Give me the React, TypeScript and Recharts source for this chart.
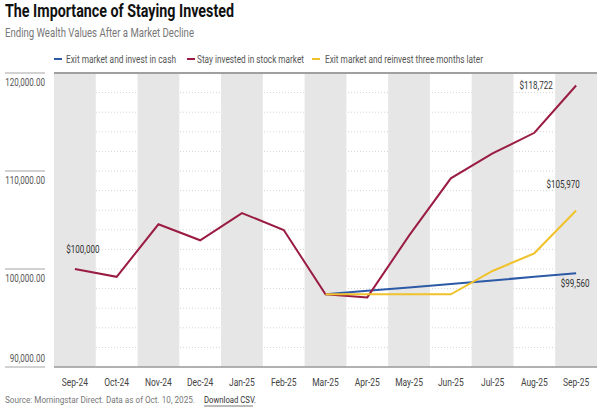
import {
  ComposedChart, Line, XAxis, YAxis, CartesianGrid, ReferenceArea, ReferenceLine, LabelList,
} from 'recharts';

const months = [
  'Sep-24', 'Oct-24', 'Nov-24', 'Dec-24', 'Jan-25', 'Feb-25', 'Mar-25',
  'Apr-25', 'May-25', 'Jun-25', 'Jul-25', 'Aug-25', 'Sep-25',
];
const stockValues = [100000, 99200, 104560, 102930, 105710, 103980, 97420, 97100, 103400, 109250, 111800, 113900, 118722];
const cashValues = [null, null, null, null, null, null, 97420, 97770, 98120, 98470, 98830, 99200, 99560];
const reinvestValues = [null, null, null, null, null, null, 97420, 97420, 97420, 97420, 99800, 101600, 105970];
const yTicks = [90000, 92000, 94000, 96000, 98000, 100000, 102000, 104000, 106000, 108000, 110000, 112000, 114000, 116000, 118000, 120000];
const yLabels = [90000, 100000, 110000, 120000];

const seriesNames = ['Exit market and invest in cash', 'Stay invested in stock market', 'Exit market and reinvest three months later'];

const BLUE = '#2d5aa6';
const RED = '#9a1c43';
const YELLOW = '#f0c22c';
const FONT = "Roboto, 'Liberation Sans', sans-serif";

const data = months.map((m, i) => ({
  month: m,
  cash: cashValues[i],
  stock: stockValues[i],
  reinvest: reinvestValues[i],
}));

const fmtMoney = (v: number) => `$${v.toLocaleString('en-US')}`;

// narrow text: the reference uses a condensed face, so squeeze horizontally
function NarrowText({ x, y, anchor = 'start', size = 10.5, sx = 0.78, fill = '#444', w, weight, children }: any) {
  return (
    <g transform={`translate(${x},${y}) scale(${sx},1)`}>
      <text
        x={0}
        y={0}
        textAnchor={anchor}
        fontSize={size}
        fontWeight={weight}
        fill={fill}
        fontFamily={FONT}
        textLength={w ? w / sx : undefined}
        lengthAdjust={w ? 'spacingAndGlyphs' : undefined}
      >
        {children}
      </text>
    </g>
  );
}

function YTick({ y, payload }: any) {
  const v = payload.value;
  if (!yLabels.includes(v)) return <g />;
  const bottom = v === 90000;
  return (
    <g>
      <line x1={5} x2={45} y1={y} y2={y} stroke="#a6a6a6" strokeWidth={1.2} />
      <NarrowText x={45} y={bottom ? y - 5 : y + 13} anchor="end" size={11} sx={0.73} fill="#555">
        {v.toLocaleString('en-US', { minimumFractionDigits: 2 })}
      </NarrowText>
    </g>
  );
}

function XTick({ x, y, payload }: any) {
  return (
    <NarrowText x={x} y={y + 11} anchor="middle" size={11} sx={0.77} fill="#444">
      {payload.value}
    </NarrowText>
  );
}

const endLabel = (idx: number, dx: number, dy: number) => (props: any) => {
  const { x, y, value, index } = props;
  if (index !== idx || value == null) return null;
  return (
    <NarrowText x={x + dx} y={y + dy + 4} anchor="middle" size={11} sx={0.73} fill="#333">
      {fmtMoney(value)}
    </NarrowText>
  );
};

const legendItems = [
  { color: BLUE, mx: 54, tx: 66, len: 110 },
  { color: RED, mx: 187, tx: 197, len: 107 },
  { color: YELLOW, mx: 312, tx: 325, len: 158 },
];

export default function App() {
  return (
    <div style={{ position: 'relative', width: 602, height: 409, background: '#fff' }}>
      <style>{'body{margin:0}'}</style>
      <svg width={602} height={409} style={{ position: 'absolute', left: 0, top: 0 }}>
        <NarrowText x={5} y={17} size={18} weight="bold" sx={0.8} fill="#111" w={229}>
          The Importance of Staying Invested
        </NarrowText>
        <NarrowText x={5} y={37} size={12.5} sx={0.8} fill="#777" w={189}>
          Ending Wealth Values After a Market Decline
        </NarrowText>
        {legendItems.map((it, i) => (
          <g key={i}>
            <line x1={it.mx} x2={it.mx + 8} y1={59} y2={59} stroke={it.color} strokeWidth={2} />
            <NarrowText x={it.tx} y={63} size={11.5} sx={0.75} fill="#555" w={it.len}>
              {seriesNames[i]}
            </NarrowText>
          </g>
        ))}
        <NarrowText x={5} y={403} size={8.8} sx={1} fill="#777" w={190}>
          Source: Morningstar Direct. Data as of Oct. 10, 2025.
        </NarrowText>
        <NarrowText x={204} y={403} size={8.8} sx={1} fill="#333" w={52}>
          Download CSV.
        </NarrowText>
        <line x1={204} x2={253} y1={406} y2={406} stroke="#555" strokeWidth={0.8} />
      </svg>
      <div style={{ position: 'absolute', left: 0, top: 0 }}>
        <ComposedChart width={602} height={409} data={data} margin={{ top: 73, right: 5, bottom: 12, left: 0 }}>
          {months.map((m, i) => (i % 2 === 0 ? (
            <ReferenceArea key={m} x1={m} x2={m} y1={90000} y2={120000} fill="#e6e6e6" fillOpacity={1} stroke="none" ifOverflow="visible" />
          ) : null))}
          <CartesianGrid vertical={false} stroke="#d4d4d4" strokeDasharray="1 2" />
          <XAxis
            dataKey="month"
            scale="band"
            interval={0}
            tickLine={false}
            axisLine={{ stroke: '#9a9a9a', strokeWidth: 1.5 }}
            tick={<XTick />}
            height={30}
          />
          <YAxis
            domain={[90000, 120000]}
            ticks={yTicks}
            width={54}
            axisLine={false}
            tickLine={false}
            tick={<YTick />}
            interval={0}
          />
          <ReferenceLine y={120000} stroke="#a0a0a0" strokeWidth={2} />
          <Line type="linear" dataKey="cash" stroke={BLUE} strokeWidth={2} dot={false} isAnimationActive={false}>
            <LabelList dataKey="cash" content={endLabel(12, -1, 10)} />
          </Line>
          <Line type="linear" dataKey="stock" stroke={RED} strokeWidth={2} dot={false} isAnimationActive={false}>
            <LabelList dataKey="stock" content={endLabel(12, -40, -1)} />
            <LabelList dataKey="stock" content={endLabel(0, 8, -20)} />
          </Line>
          <Line type="linear" dataKey="reinvest" stroke={YELLOW} strokeWidth={2} dot={false} isAnimationActive={false}>
            <LabelList dataKey="reinvest" content={endLabel(12, -13, -26)} />
          </Line>
        </ComposedChart>
      </div>
    </div>
  );
}
